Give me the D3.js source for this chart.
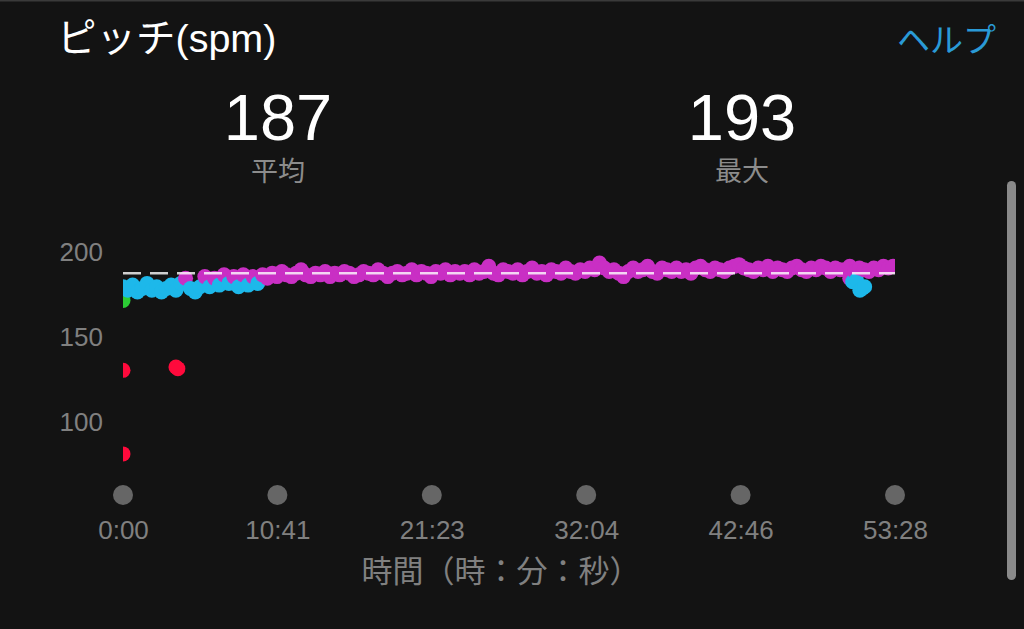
<!DOCTYPE html>
<html>
<head>
<meta charset="utf-8">
<script src="https://cdn.jsdelivr.net/npm/d3@7/dist/d3.min.js"></script>
<style>
html,body{margin:0;padding:0;background:#131313;}
svg{display:block;}
</style>
</head>
<body>
<svg id="chart" width="1024" height="629"></svg>
<script>
// ---- data ----
const title = "ピッチ(spm)";
const helpLabel = "ヘルプ";
const statValues = ["187", "193"];
const statLabels = ["平均", "最大"];
const averageSpm = 187;
const totalSeconds = 3208;            // 53:28
const sampleInterval = 20;            // seconds between samples
const xTickLabels = ["0:00", "10:41", "21:23", "32:04", "42:46", "53:28"];
const yTickValues = [100, 150, 200];
const xAxisTitle = "時間（時：分：秒）";
// extra (off-grid) samples
const extraSeconds = [0, 0, 0, 220, 228, 3020, 3032, 3048, 3062, 3072, 3082];
const extraSpm     = [81, 130, 171, 132, 131, 184, 182, 183, 177, 178, 179];
// cadence samples every 20 s
const cadenceSpm = [
  179,177,180,176,178,181,177,179,176,178,180,177,181,184,178,176,179,
  185,179,184,180,186,181,185,179,186,180,185,181,
  186,184,187,185,188,186,185,187,189,186,185,187,186,188,185,187,186,188,187,185,
  186,188,187,186,189,187,185,187,188,186,187,189,186,188,187,185,188,187,189,186,188,187,
  188,186,189,187,188,191,187,186,189,188,187,189,186,188,190,187,188,186,189,188,
  187,190,188,187,189,188,190,189,193,190,
  188,189,187,185,188,190,188,189,191,188,187,190,189,188,190,188,189,187,190,191,
  189,188,190,189,188,190,191,192,190,189,
  188,190,189,191,188,190,189,188,190,191,189,188,190,189,191,190,188,190,189,
  189,191,188,190,189,188,190,189,191,190,191
];
const zoneColors = {purple:"#c92fc4", blue:"#1db8ea", green:"#2ccd35", orange:"#f5a623", red:"#ff0a3c"};

function zone(v){
  if (v >= 184) return zoneColors.purple;
  if (v >= 174) return zoneColors.blue;
  if (v >= 164) return zoneColors.green;
  if (v >= 153) return zoneColors.orange;
  return zoneColors.red;
}

const points = [];
extraSeconds.forEach((t,i)=>{ if (t===0) points.push({t, v: extraSpm[i]}); });
cadenceSpm.forEach((v,i)=>{
  const t = Math.min(i*sampleInterval, totalSeconds);
  points.push({t, v});
  extraSeconds.forEach((et,j)=>{ if (et>0 && et>t && et<=t+sampleInterval) points.push({t:et, v:extraSpm[j]}); });
});

// ---- drawing ----
const svg = d3.select("#chart");
const W = 1024, H = 629;
svg.append("rect").attr("width",W).attr("height",H).attr("fill","#131313");
svg.append("rect").attr("width",W).attr("height",1.5).attr("fill","#3a3a3a");

const jp = "'Noto Sans CJK JP', sans-serif";
const num = "'Liberation Sans', Arial, 'Noto Sans CJK JP', sans-serif";

svg.append("text").attr("x",57).attr("y",52).attr("fill","#ffffff")
  .attr("font-family",num).attr("font-size",39.5).text(title);
svg.append("text").attr("x",996).attr("y",52).attr("text-anchor","end").attr("fill","#2a9ad6")
  .attr("font-family",jp).attr("font-size",33).text(helpLabel);

const statX = [278, 742];
statValues.forEach((s,i)=>{
  svg.append("text").attr("x",statX[i]).attr("y",140).attr("text-anchor","middle").attr("fill","#ffffff")
    .attr("font-family",num).attr("font-size",65).text(s);
  svg.append("text").attr("x",statX[i]).attr("y",181).attr("text-anchor","middle").attr("fill","#8c8c8c")
    .attr("font-family",jp).attr("font-size",27).text(statLabels[i]);
});

const x = d3.scaleLinear().domain([0,totalSeconds]).range([123,895]);
const y = d3.scaleLinear().domain([100,200]).range([421.5,251]);

// y axis labels
const yAxis = d3.axisLeft(y).tickValues(yTickValues).tickSize(0).tickPadding(0).tickFormat(d3.format("d"));
const gy = svg.append("g").attr("transform","translate(103,0)").call(yAxis);
gy.select(".domain").remove();
gy.selectAll("text").attr("fill","#808080").attr("font-family",num).attr("font-size",26).attr("dy","0.35em");

// x axis: dots + labels
const xTickSeconds = xTickLabels.map((_,i)=> i*totalSeconds/(xTickLabels.length-1));
const xAxis = d3.axisBottom(x).tickValues(xTickSeconds).tickSize(0).tickPadding(0)
  .tickFormat((d,i)=>xTickLabels[i]);
const gx = svg.append("g").attr("transform","translate(0,539)").call(xAxis);
gx.select(".domain").remove();
gx.selectAll("text").attr("fill","#808080").attr("font-family",num).attr("font-size",26).attr("dy",0);
svg.append("g").selectAll("circle").data(xTickSeconds).join("circle")
  .attr("cx",d=>x(d)).attr("cy",495).attr("r",10).attr("fill","#666666");

svg.append("text").attr("x",501).attr("y",582).attr("text-anchor","middle").attr("fill","#808080")
  .attr("font-family",jp).attr("font-size",31).text(xAxisTitle);

// plot
svg.append("clipPath").attr("id","plotclip").append("rect")
  .attr("x",123).attr("y",200).attr("width",772).attr("height",280);
const plot = svg.append("g").attr("clip-path","url(#plotclip)");
plot.selectAll("circle").data(points).join("circle")
  .attr("cx",d=>x(d.t)).attr("cy",d=>y(d.v)).attr("r",7.5).attr("fill",d=>zone(d.v));

plot.append("line").attr("x1",x(0)).attr("x2",x(totalSeconds))
  .attr("y1",y(averageSpm)).attr("y2",y(averageSpm))
  .attr("stroke","#ffffff").attr("stroke-opacity",0.8).attr("stroke-width",2.5)
  .attr("stroke-dasharray","18,9");

// scrollbar
svg.append("rect").attr("x",1007).attr("y",181).attr("width",9).attr("height",399)
  .attr("rx",4.5).attr("fill","#8a8a8a");
</script>
</body>
</html>
